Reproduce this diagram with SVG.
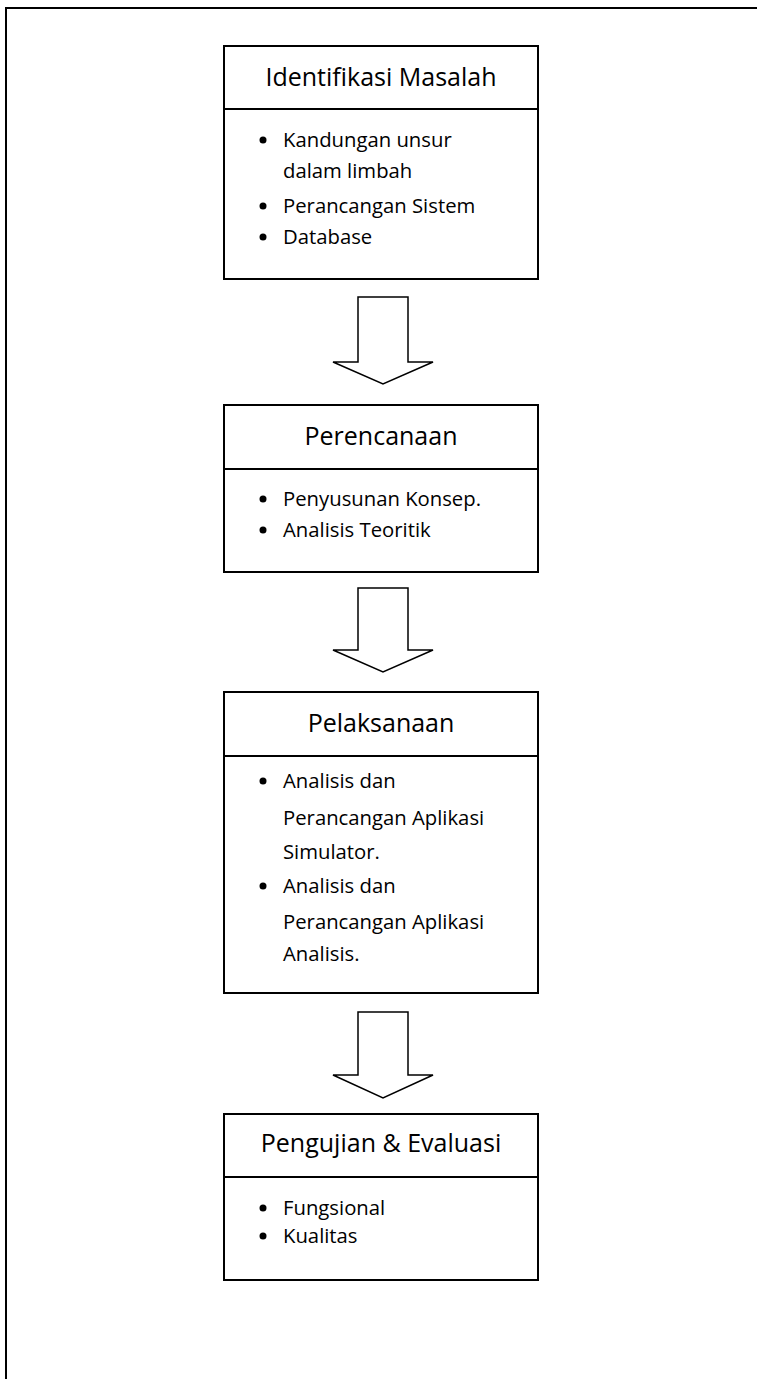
<svg xmlns="http://www.w3.org/2000/svg" width="757" height="1379" viewBox="0 0 757 1379">
  <style>
    .box { fill: #ffffff; stroke: #000000; stroke-width: 2; }
    .div { stroke: #000000; stroke-width: 2; }
    .title { font-family: "Open Sans", "Liberation Sans", sans-serif; font-size: 25px; fill: #000000; text-anchor: middle; }
    .item { font-family: "Open Sans", "Liberation Sans", sans-serif; font-size: 20.3px; fill: #000000; }
    .bullet { fill: #000000; }
    .flow { fill: #ffffff; stroke: #000000; stroke-width: 1.5; stroke-linejoin: miter; }
  </style>

  <rect x="0" y="0" width="757" height="1379" fill="#ffffff"/>

  <!-- page frame: top and left rules -->
  <path d="M6,1379 V8 H757" fill="none" stroke="#000000" stroke-width="2"/>

  <g id="node-identifikasi">
    <rect class="box" x="224" y="46" width="314" height="233"/>
    <line class="div" x1="224" y1="109" x2="538" y2="109"/>
    <text class="title" x="381" y="86">Identifikasi Masalah</text>
    <circle class="bullet" cx="263" cy="140" r="3.5"/>
    <text class="item" x="283" y="147">Kandungan unsur</text>
    <text class="item" x="283" y="178">dalam limbah</text>
    <circle class="bullet" cx="263" cy="206" r="3.5"/>
    <text class="item" x="283" y="213">Perancangan Sistem</text>
    <circle class="bullet" cx="263" cy="237" r="3.5"/>
    <text class="item" x="283" y="244">Database</text>
  </g>

  <g id="node-perencanaan">
    <rect class="box" x="224" y="405" width="314" height="167"/>
    <line class="div" x1="224" y1="469" x2="538" y2="469"/>
    <text class="title" x="381" y="445">Perencanaan</text>
    <circle class="bullet" cx="263" cy="499" r="3.5"/>
    <text class="item" x="283" y="506">Penyusunan Konsep.</text>
    <circle class="bullet" cx="263" cy="530" r="3.5"/>
    <text class="item" x="283" y="537">Analisis Teoritik</text>
  </g>

  <g id="node-pelaksanaan">
    <rect class="box" x="224" y="692" width="314" height="301"/>
    <line class="div" x1="224" y1="756" x2="538" y2="756"/>
    <text class="title" x="381" y="732">Pelaksanaan</text>
    <circle class="bullet" cx="263" cy="781" r="3.5"/>
    <text class="item" x="283" y="788">Analisis dan</text>
    <text class="item" x="283" y="825">Perancangan Aplikasi</text>
    <text class="item" x="283" y="859">Simulator.</text>
    <circle class="bullet" cx="263" cy="886" r="3.5"/>
    <text class="item" x="283" y="893">Analisis dan</text>
    <text class="item" x="283" y="929">Perancangan Aplikasi</text>
    <text class="item" x="283" y="961">Analisis.</text>
  </g>

  <g id="node-pengujian">
    <rect class="box" x="224" y="1114" width="314" height="166"/>
    <line class="div" x1="224" y1="1177" x2="538" y2="1177"/>
    <text class="title" x="381" y="1152">Pengujian &amp; Evaluasi</text>
    <circle class="bullet" cx="263" cy="1208" r="3.5"/>
    <text class="item" x="283" y="1215">Fungsional</text>
    <circle class="bullet" cx="263" cy="1236" r="3.5"/>
    <text class="item" x="283" y="1243">Kualitas</text>
  </g>

  <g id="connectors">
    <polygon class="flow" points="358,297 408,297 408,362 433,362 383,384 333,362 358,362"/>
    <polygon class="flow" points="358,588 408,588 408,650 433,650 383,672 333,650 358,650"/>
    <polygon class="flow" points="358,1012 408,1012 408,1075 433,1075 383,1098 333,1075 358,1075"/>
  </g>
</svg>
